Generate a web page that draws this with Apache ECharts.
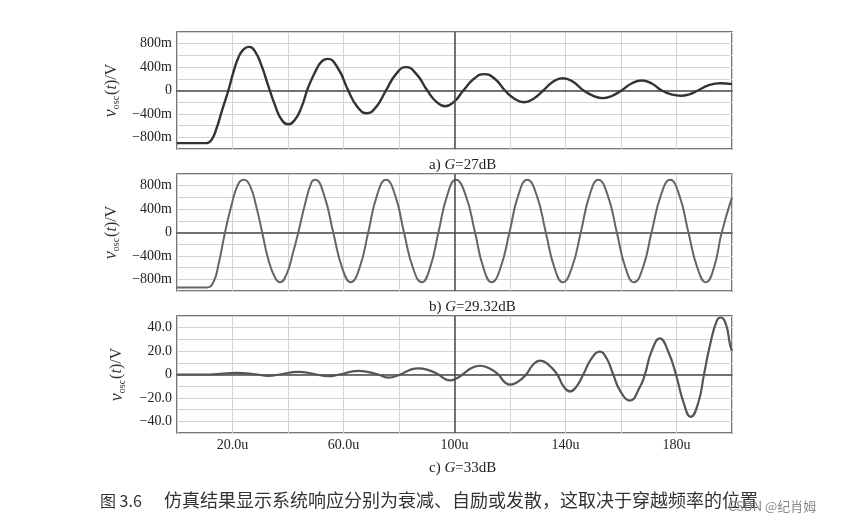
<!DOCTYPE html>
<html><head><meta charset="utf-8">
<script src="https://cdn.jsdelivr.net/npm/echarts@6/dist/echarts.min.js"></script>
<style>html,body{margin:0;padding:0;background:#fff}#c{width:842px;height:527px}</style>
</head><body><div id="c"></div>
<script>
// Panel a: G = 27dB (decaying)
const tA = [0, 10.7, 12.5, 14.3, 16.1, 18.5, 20.3, 22.1, 23.9, 25.9, 28.1, 30.5, 32.9, 35.3, 37.7, 40.1, 42.5, 44.9, 47.3, 49.7, 52, 54.3, 58, 61.7, 65, 68.4, 71.8, 75.3, 78.9, 82.5, 86.3, 90.2, 93.4, 96.6, 99.9, 103.2, 107, 110.7, 114.5, 118.2, 121.6, 125, 128.5, 132, 135.5, 139, 142.7, 146.5, 150, 153.4, 156.8, 160.2, 163.8, 167.5, 171.1, 174.7, 178.1, 181.5, 184.6, 187.7, 191.7, 195.7, 200];
const vA = [-0.9, -0.9, -0.84, -0.64, -0.36, 0, 0.31, 0.56, 0.70, 0.745, 0.67, 0.42, 0.08, -0.25, -0.50, -0.577, -0.50, -0.28, 0.057, 0.31, 0.49, 0.54, 0.38, 0, -0.28, -0.39, -0.28, 0, 0.28, 0.40, 0.28, 0, -0.19, -0.27, -0.19, 0, 0.2, 0.28, 0.2, 0, -0.14, -0.2, -0.14, 0, 0.15, 0.21, 0.15, 0, -0.09, -0.13, -0.09, 0, 0.12, 0.17, 0.12, 0, -0.065, -0.09, -0.065, 0, 0.09, 0.125, 0.11];
// Panel b: G = 29.32dB (sustained)
const tB = [0, 10.7, 13.1, 14.9, 17.3, 19.7, 22.1, 24.1, 26.3, 28.7, 30.7, 32.9, 35.3, 37.1, 39.5, 41.9, 43.7, 46.1, 48.5, 49.8, 53, 56.3, 59.5, 62.6, 65.8, 68.9, 72.1, 75.3, 78.6, 81.8, 85, 88.2, 91.2, 94.2, 97.4, 100.5, 104, 107.4, 110.4, 113.4, 116.6, 119.8, 123, 126.2, 129.6, 132.9, 136, 139, 142.3, 145.5, 148.7, 151.8, 155.2, 158.5, 161.6, 164.7, 167.9, 171, 174.4, 177.7, 181, 184.3, 187.5, 190.6, 193.5, 196.3, 200];
const vB = [-0.94, -0.94, -0.85, -0.56, 0, 0.48, 0.83, 0.90, 0.80, 0.42, 0, -0.46, -0.77, -0.85, -0.71, -0.33, 0, 0.48, 0.86, 0.90, 0.64, 0, -0.6, -0.85, -0.6, 0, 0.64, 0.90, 0.64, 0, -0.6, -0.85, -0.6, 0, 0.64, 0.90, 0.64, 0, -0.6, -0.85, -0.6, 0, 0.64, 0.90, 0.64, 0, -0.6, -0.85, -0.6, 0, 0.64, 0.90, 0.64, 0, -0.6, -0.85, -0.6, 0, 0.64, 0.90, 0.64, 0, -0.6, -0.85, -0.6, 0, 0.6];
// Panel c: G = 33dB (diverging)
const tC = [0, 12, 21.5, 28.7, 32.9, 37.1, 43.7, 50.3, 54.5, 58.5, 65.3, 72.5, 76.1, 80.4, 83.7, 87, 90.6, 94.2, 96.3, 98.4, 100.6, 102.9, 106, 109.2, 112.5, 115.8, 117.9, 120, 122.9, 125.8, 128.3, 130.8, 133.9, 137, 139.3, 141.6, 144, 146.4, 149.4, 152.4, 154.8, 157.2, 159.6, 163.2, 166.8, 168.6, 171, 174, 177, 179.8, 182.5, 185.1, 187.9, 189.9, 192.1, 194.5, 195.9, 197.8, 199.3, 200];
const vC = [0, 0, 1.4, 0, -1.2, 0, 2.3, 0, -1.5, 0, 3.1, 0, -2.6, 0, 3.7, 5.2, 3.7, 0, -3.5, -5, -3.5, 0, 5.3, 7.5, 5.3, 0, -6.1, -8.7, -6.1, 0, 8.3, 11.8, 8.3, 0, -10.2, -14.5, -10.2, 0, 13.8, 19.5, 13.9, 0, -13.6, -22.3, -10.7, 0, 19.7, 30.8, 19.7, 0, -23.7, -36.2, -23.7, 0, 25.5, 45.8, 48.7, 43, 25.5, 20];

const xTickLabels = {20: '20.0u', 60: '60.0u', 100: '100u', 140: '140u', 180: '180u'};
const yTicksMV = {0.8: '800m', 0.4: '400m', 0: '0', '-0.4': '\u2212400m', '-0.8': '\u2212800m'};
const yTicksV = {40: '40.0', 20: '20.0', 0: '0', '-20': '\u221220.0', '-40': '\u221240.0'};
const titles = [['a) ', 'G', '=27dB'], ['b) ', 'G', '=29.32dB'], ['c) ', 'G', '=33dB']];

const serif = '"Liberation Serif", "DejaVu Serif", serif';
const frame = '#4a4a4a';
const tops = [32, 174, 316];
const titleTops = [153, 295, 456];
const H = 117;

function zip(t, v) { return t.map((x, i) => [x, v[i]]); }
function key(v) { return String(Math.round(v * 100) / 100); }

const grids = tops.map(t => ({left: 177, width: 555, top: t, height: H, show: true, borderColor: frame, borderWidth: 1.5, backgroundColor: '#fff'}));

const xAxes = [0, 1, 2].map(i => ({
  type: 'value', gridIndex: i, min: 0, max: 200, interval: 20,
  axisLine: {show: true, onZero: true, lineStyle: {color: frame, width: 1.5}},
  axisTick: {show: false},
  splitLine: {show: true, lineStyle: {color: '#d4d4d4', width: 1}},
  axisLabel: {show: i === 2, margin: 5, color: '#222', fontFamily: serif, fontSize: 14,
    formatter: v => xTickLabels[Math.round(v)] || ''}
}));

const yName = '{v|v}{s|osc}{p|(}{t|t}{p|)/V}';
const yRich = {
  v: {fontFamily: serif, fontStyle: 'italic', fontSize: 18, color: '#333', lineHeight: 20},
  s: {fontFamily: serif, fontSize: 10, color: '#333', verticalAlign: 'bottom', lineHeight: 10, padding: [0, 1, 0, 0]},
  p: {fontFamily: serif, fontSize: 16, color: '#333', lineHeight: 20},
  t: {fontFamily: serif, fontStyle: 'italic', fontSize: 16, color: '#333', lineHeight: 20}
};

const yAxes = [0, 1, 2].map(i => ({
  type: 'value', gridIndex: i,
  min: i === 2 ? -50 : -1, max: i === 2 ? 50 : 1, interval: i === 2 ? 10 : 0.2,
  axisLine: {show: false}, axisTick: {show: false},
  splitLine: {show: true, lineStyle: {color: '#d4d4d4', width: 1}},
  axisLabel: {margin: 5, color: '#222', fontFamily: serif, fontSize: 14,
    formatter: v => (i === 2 ? yTicksV[key(v)] : yTicksMV[key(v)]) || ''},
  name: yName, nameLocation: 'middle', nameRotate: 90, nameGap: 50,
  nameTextStyle: {rich: yRich}
}));

const colors = ['#333333', '#666666', '#555555'];
const widths = [2.4, 2, 2.2];
const dataSets = [zip(tA, vA), zip(tB, vB), zip(tC, vC)];

const series = dataSets.map((d, i) => ({
  type: 'line', xAxisIndex: i, yAxisIndex: i, data: d, showSymbol: false, symbol: 'none',
  smooth: 0.5,
  lineStyle: {color: colors[i], width: widths[i]},
  markLine: {silent: true, symbol: 'none', label: {show: false},
    lineStyle: {color: frame, width: 1.5, type: 'solid'}, data: [{xAxis: 100}]},
  animation: false
}));

const titleComps = titles.map((t, i) => ({
  text: '{n|' + t[0] + '}{i|' + t[1] + '}{n|' + t[2] + '}',
  left: 424, top: titleTops[i],
  textStyle: {fontWeight: 'normal', rich: {
    n: {fontFamily: serif, fontSize: 15, fontWeight: 'normal', color: '#222'},
    i: {fontFamily: serif, fontSize: 15, fontWeight: 'normal', fontStyle: 'italic', color: '#222'}
  }}
}));

const chart = echarts.init(document.getElementById('c'));
chart.setOption({
  animation: false,
  backgroundColor: '#fff',
  title: titleComps,
  grid: grids, xAxis: xAxes, yAxis: yAxes, series: series,
  graphic: [
    {type: 'text', left: 100, top: 493, z: 10, style: {text: '图 3.6', font: '16px "Noto Sans CJK SC", serif', fill: '#333'}},
    {type: 'text', left: 164, top: 491, z: 10, style: {text: '仿真结果显示系统响应分别为衰减、自励或发散，这取决于穿越频率的位置', font: '18px "Noto Sans CJK SC"', fill: '#333'}},
    {type: 'text', left: 728, top: 500, z: 20, style: {text: 'CSDN @纪肖姆', font: '13px "Noto Sans CJK SC"', fill: '#888'}}
  ]
});
</script></body></html>
